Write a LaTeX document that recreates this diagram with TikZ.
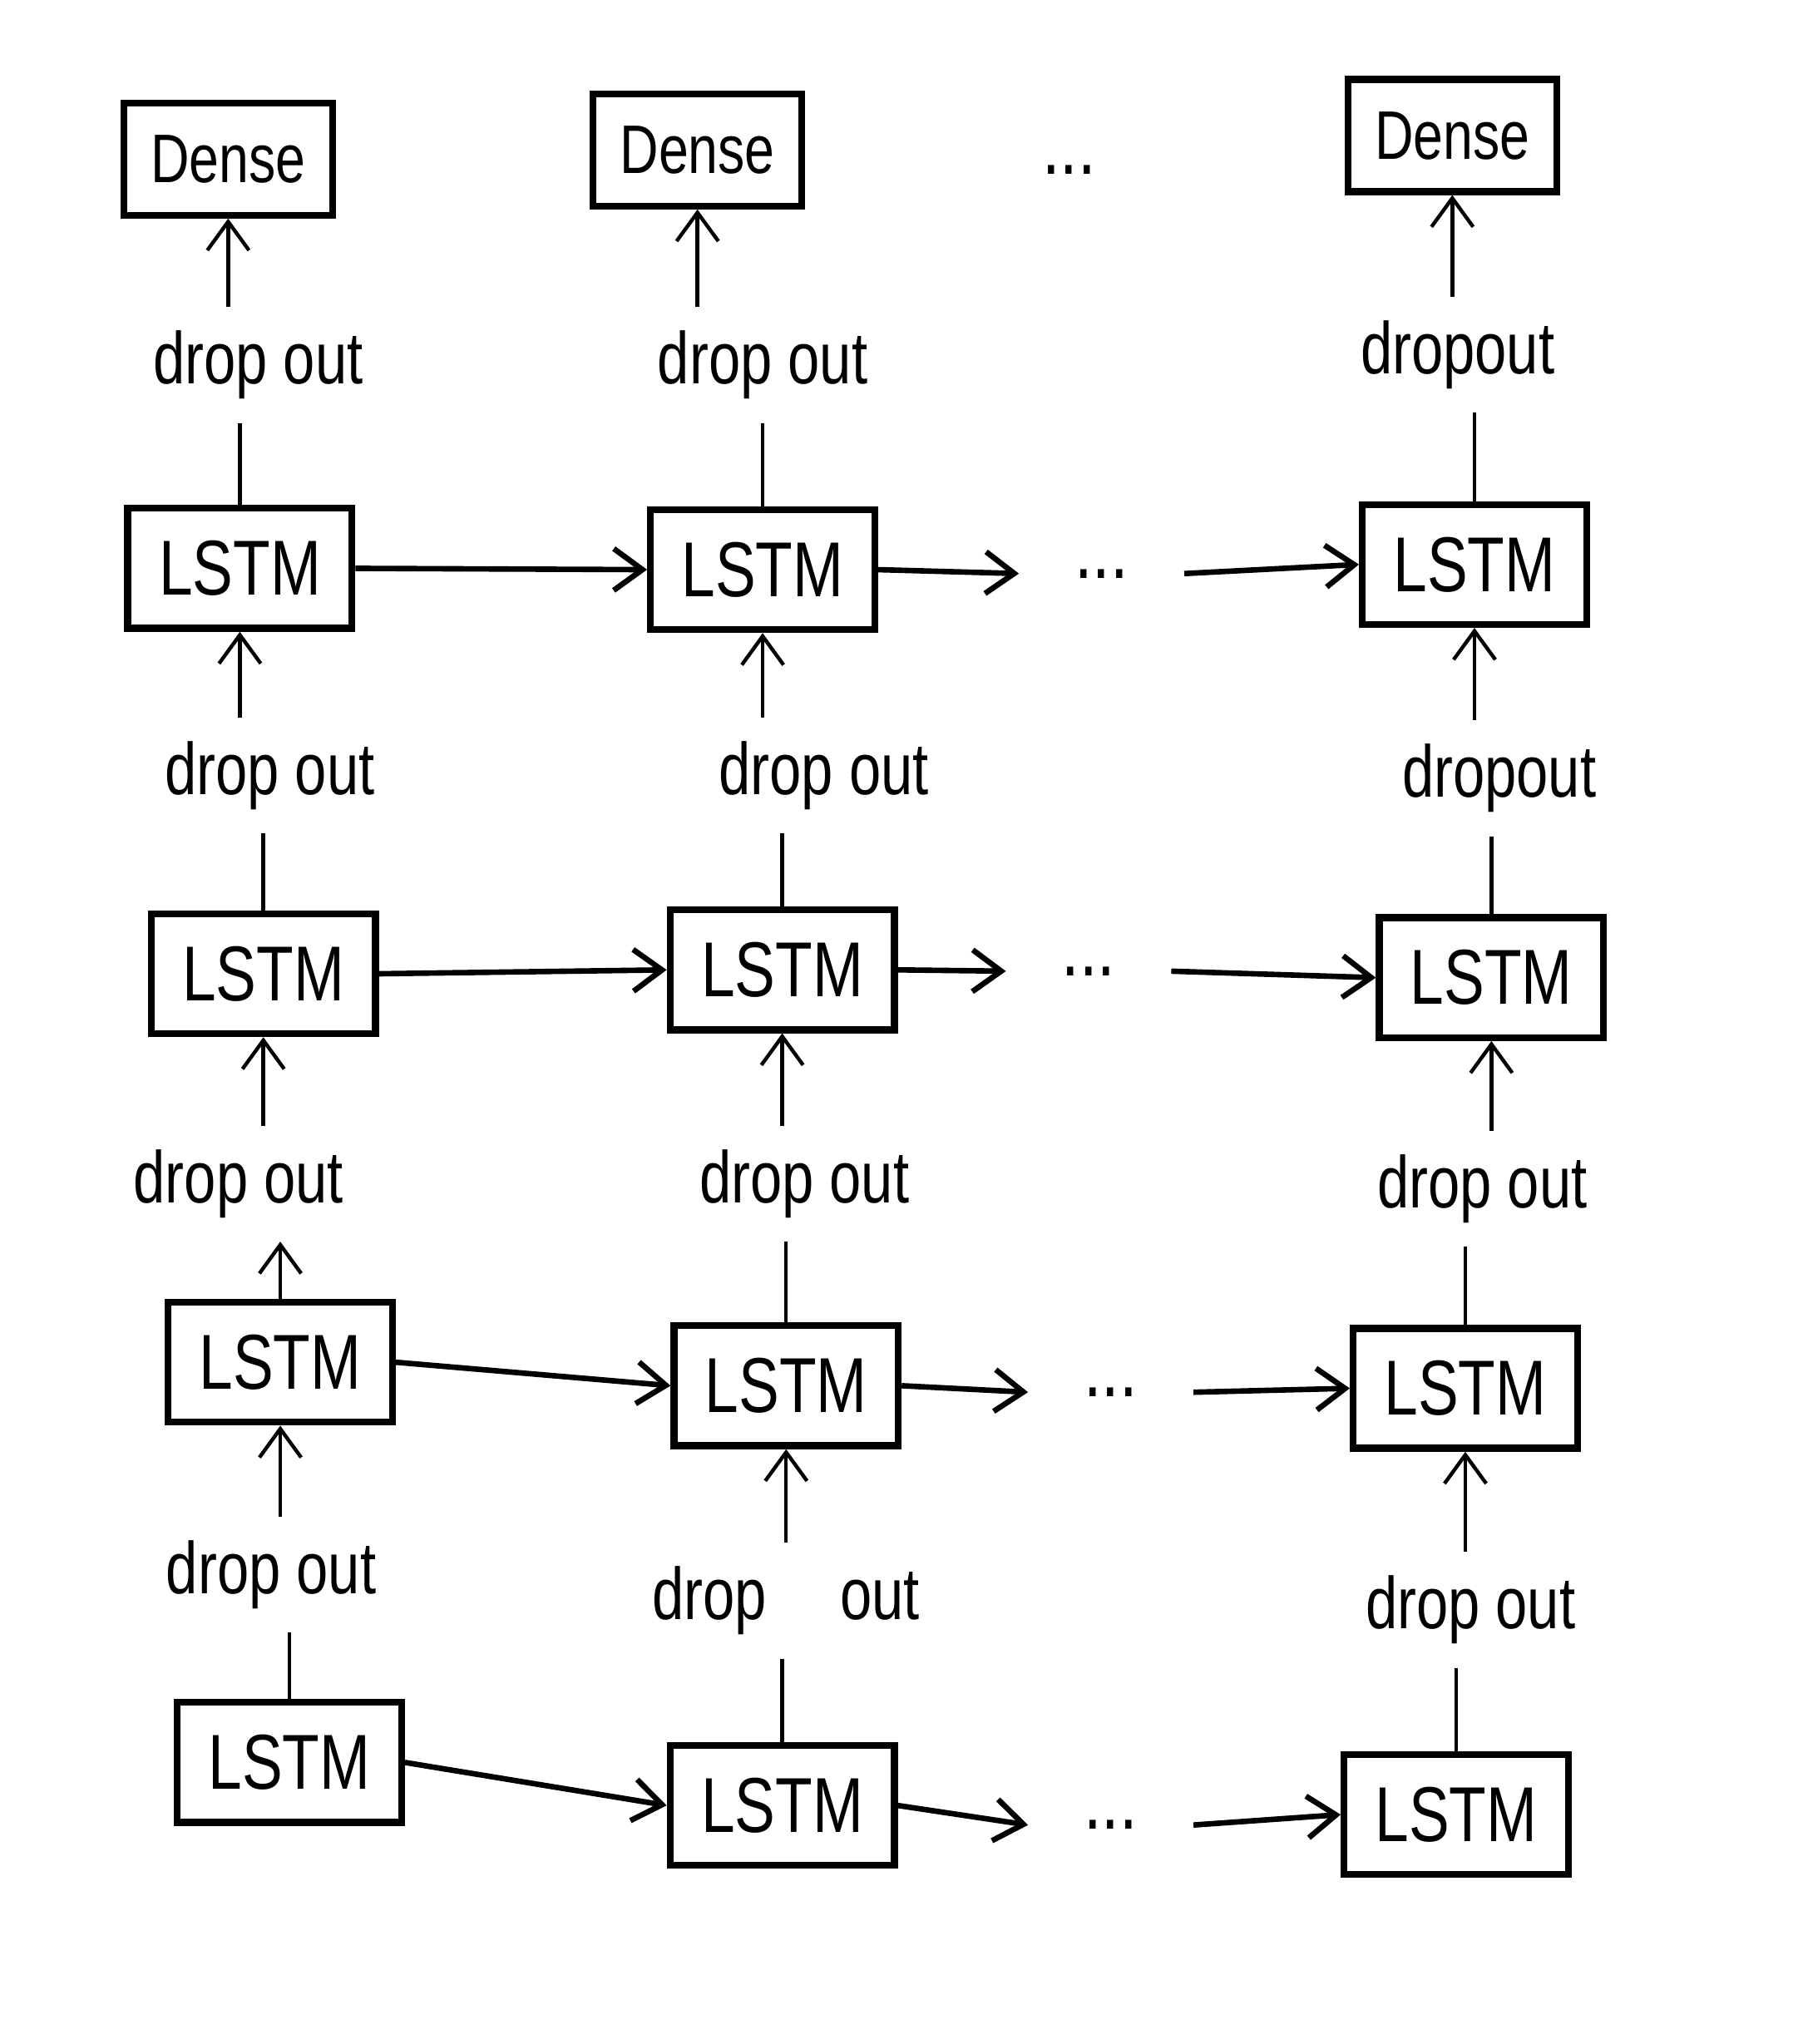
\documentclass[tikz,border=0pt]{standalone}
\usepackage{fontspec}
\setmainfont{Liberation Sans}[FakeStretch=0.78]
\usetikzlibrary{arrows.meta}
\begin{document}
\begin{tikzpicture}[
  >={Straight Barb[length=2.2mm,width=3.2mm]},
  lstmbox/.style={draw, line width=1.5pt, minimum width=1.72cm, minimum height=0.92cm, font=\fontsize{17}{19}\selectfont},
  densebox/.style={draw, line width=1.5pt, minimum width=1.6cm, minimum height=0.86cm, font=\fontsize{15}{17}\selectfont},
  droplabel/.style={font=\fontsize{16}{18}\selectfont, inner sep=5pt},
  dotslabel/.style={font=\fontsize{18}{20}\selectfont, inner xsep=12pt},
  thinline/.style={line width=0.8pt},
  flowline/.style={line width=1.2pt, ->}
]%
%
\useasboundingbox (0,0) rectangle (13.79,-15.68);
%
% output layer
\node[densebox] (d1) at (1.75,-1.22) {Dense};
\node[densebox] (d2) at (5.35,-1.15) {Dense};
\node[densebox] (d3) at (11.14,-1.04) {Dense};
\node[dotslabel] (dots0) at (8.2,-1.3) {...};
%
% drop out labels
\node[droplabel] (dr11) at (1.98,-2.80) {drop out};
\node[droplabel] (dr12) at (5.85,-2.80) {drop out};
\node[droplabel] (dr13) at (11.18,-2.72) {dropout};
\node[droplabel] (dr21) at (2.07,-5.95) {drop out};
\node[droplabel] (dr22) at (6.32,-5.95) {drop out};
\node[droplabel] (dr23) at (11.50,-5.97) {dropout};
\node[droplabel] (dr31) at (1.83,-9.08) {drop out};
\node[droplabel] (dr32) at (6.17,-9.08) {drop out};
\node[droplabel] (dr33) at (11.37,-9.12) {drop out};
\node[droplabel] (dr41) at (2.08,-12.08) {drop out};
\node[droplabel] (dr42) at (6.03,-12.28) {drop\quad out};
\node[droplabel] (dr43) at (11.28,-12.35) {drop out};
%
% LSTM layers
\node[lstmbox] (l11) at (1.84,-4.36) {LSTM};
\node[lstmbox] (l12) at (5.85,-4.37) {LSTM};
\node[lstmbox] (l13) at (11.31,-4.33) {LSTM};
\node[dotslabel] (dots1) at (8.45,-4.40) {...};
%
\node[lstmbox] (l21) at (2.02,-7.47) {LSTM};
\node[lstmbox] (l22) at (6.00,-7.44) {LSTM};
\node[lstmbox] (l23) at (11.44,-7.50) {LSTM};
\node[dotslabel] (dots2) at (8.35,-7.45) {...};
%
\node[lstmbox] (l31) at (2.15,-10.45) {LSTM};
\node[lstmbox] (l32) at (6.03,-10.63) {LSTM};
\node[lstmbox] (l33) at (11.24,-10.65) {LSTM};
\node[dotslabel] (dots3) at (8.52,-10.68) {...};
%
\node[lstmbox] (l41) at (2.22,-13.52) {LSTM};
\node[lstmbox] (l42) at (6.00,-13.85) {LSTM};
\node[lstmbox] (l43) at (11.17,-13.92) {LSTM};
\node[dotslabel] (dots4) at (8.52,-14.00) {...};
%
% time direction
\draw[flowline] (l11.east) -- (l12.west);
\draw[flowline] (l12.east) -- (dots1.west);
\draw[flowline] (dots1.east) -- (l13.west);
\draw[flowline] (l21.east) -- (l22.west);
\draw[flowline] (l22.east) -- (dots2.west);
\draw[flowline] (dots2.east) -- (l23.west);
\draw[flowline] (l31.east) -- (l32.west);
\draw[flowline] (l32.east) -- (dots3.west);
\draw[flowline] (dots3.east) -- (l33.west);
\draw[flowline] (l41.east) -- (l42.west);
\draw[flowline] (l42.east) -- (dots4.west);
\draw[flowline] (dots4.east) -- (l43.west);
%
% layer direction: box -- drop out
\draw[thinline] (l11.north) -- (l11.north |- dr11.south);
\draw[thinline] (l12.north) -- (l12.north |- dr12.south);
\draw[thinline] (l13.north) -- (l13.north |- dr13.south);
\draw[thinline] (l21.north) -- (l21.north |- dr21.south);
\draw[thinline] (l22.north) -- (l22.north |- dr22.south);
\draw[thinline] (l23.north) -- (l23.north |- dr23.south);
\draw[thinline, ->] (l31.north) -- (l31.north |- dr31.south);
\draw[thinline] (l32.north) -- (l32.north |- dr32.south);
\draw[thinline] (l33.north) -- (l33.north |- dr33.south);
\draw[thinline] (l41.north) -- (l41.north |- dr41.south);
\draw[thinline] (l42.north) -- (l42.north |- dr42.south);
\draw[thinline] (l43.north) -- (l43.north |- dr43.south);
%
% drop out -> box
\draw[thinline, ->] (d1.south |- dr11.north) -- (d1.south);
\draw[thinline, ->] (d2.south |- dr12.north) -- (d2.south);
\draw[thinline, ->] (d3.south |- dr13.north) -- (d3.south);
\draw[thinline, ->] (l11.south |- dr21.north) -- (l11.south);
\draw[thinline, ->] (l12.south |- dr22.north) -- (l12.south);
\draw[thinline, ->] (l13.south |- dr23.north) -- (l13.south);
\draw[thinline, ->] (l21.south |- dr31.north) -- (l21.south);
\draw[thinline, ->] (l22.south |- dr32.north) -- (l22.south);
\draw[thinline, ->] (l23.south |- dr33.north) -- (l23.south);
\draw[thinline, ->] (l31.south |- dr41.north) -- (l31.south);
\draw[thinline, ->] (l32.south |- dr42.north) -- (l32.south);
\draw[thinline, ->] (l33.south |- dr43.north) -- (l33.south);
%
\end{tikzpicture}
\end{document}
